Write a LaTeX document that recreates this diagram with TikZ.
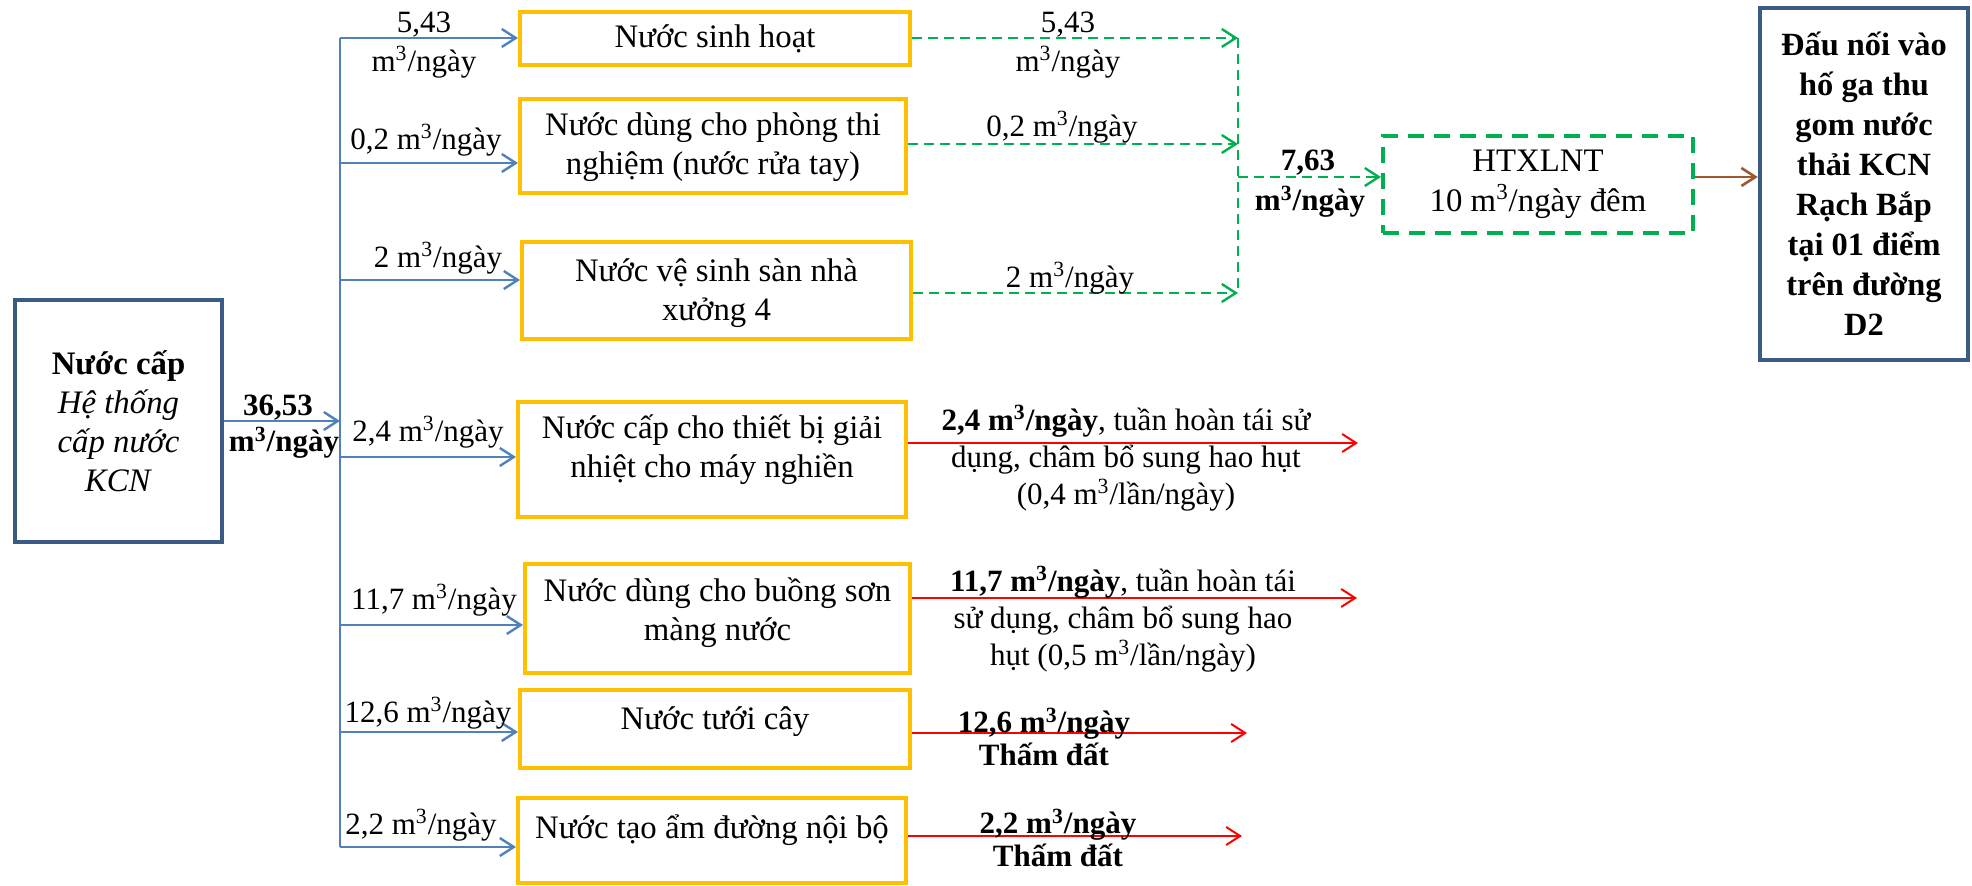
\documentclass[tikz,border=0pt]{standalone}
\usepackage{fontspec}
\setmainfont{Liberation Serif}
\usepackage{tikz}
\usetikzlibrary{arrows.meta, positioning, calc}

\definecolor{khungxanh}{HTML}{3B5A86}
\definecolor{cam}{HTML}{FFC000}
\definecolor{xanhla}{HTML}{00B050}
\definecolor{xanhduong}{HTML}{4F81BD}
\definecolor{nau}{HTML}{A0582E}

\newcommand{\mday}{m\textsuperscript{3}/ngày}

\begin{document}
\begin{tikzpicture}[x=0.5pt, y=-0.5pt,
    hop/.style={draw=cam, line width=2pt, inner sep=0pt},
    chu/.style={align=center, inner sep=0pt, font=\fontsize{16.4}{19.5}\selectfont},
    khung/.style={draw=khungxanh, line width=2.2pt, align=center, inner sep=2pt},
    ongcap/.style={draw=xanhduong, line width=1.2pt, -{Straight Barb[length=7pt,width=9pt]}},
    thai/.style={draw=xanhla, line width=1.2pt, dash pattern=on 5pt off 3pt},
    tuan/.style={draw=red, line width=1pt, -{Straight Barb[length=7pt,width=9pt]}},
    nhan/.style={font=\fontsize{15.5}{18.5}\selectfont, align=center, inner sep=0pt},
    nhanb/.style={align=center, inner sep=0pt, font=\fontsize{15.5}{19}\selectfont\bfseries}]
    \useasboundingbox (0,0) rectangle (1972,886);

    % nguon cap va cac hang muc dung nuoc
    \node[khung, minimum width=103.5pt, minimum height=121pt, font=\fontsize{16.4}{19.5}\selectfont] (src) at (118.5,421)
        {\textbf{Nước cấp}\\ \textit{Hệ thống}\\ \textit{cấp nước}\\ \textit{KCN}};
    \node[hop, minimum width=195pt, minimum height=26.5pt] (sh) at (715,38.5) {};
    \node[hop, minimum width=193pt, minimum height=47pt] (tn) at (713,146) {};
    \node[hop, minimum width=194.5pt, minimum height=48.5pt] (vs) at (716.5,290.5) {};
    \node[hop, minimum width=194pt, minimum height=57.5pt] (gn) at (712,459.5) {};
    \node[hop, minimum width=192.5pt, minimum height=54.5pt] (bs) at (717.5,618.5) {};
    \node[hop, minimum width=195pt, minimum height=39pt] (tc) at (715,729) {};
    \node[hop, minimum width=194pt, minimum height=42.5pt] (ta) at (712,840.5) {};

    \node[chu] (sh-t) at (715,39) {Nước sinh hoạt};
    \node[chu] (tn-t) at (713,147) {Nước dùng cho phòng thi\\ nghiệm (nước rửa tay)};
    \node[chu] (vs-t) at (716.5,293) {Nước vệ sinh sàn nhà\\ xưởng 4};
    \node[chu] (gn-t) at (712,450) {Nước cấp cho thiết bị giải\\ nhiệt cho máy nghiền};
    \node[chu] (bs-t) at (717.5,613) {Nước dùng cho buồng sơn\\ màng nước};
    \node[chu] (tc-t) at (715,722) {Nước tưới cây};
    \node[chu] (ta-t) at (712,830) {Nước tạo ẩm đường nội bộ};

    \node[draw=xanhla, line width=2pt, dash pattern=on 8pt off 5pt, minimum width=155pt, minimum height=48.5pt,
        align=center, font=\fontsize{16.4}{20}\selectfont] (xl) at (1538,184.5) {HTXLNT\\ 10 m\textsuperscript{3}/ngày đêm};
    \node[khung, minimum width=104pt, minimum height=176pt, font=\fontsize{16.2}{20}\selectfont\bfseries] (dn) at (1864,184)
        {Đấu nối vào\\ hố ga thu\\ gom nước\\ thải KCN\\ Rạch Bắp\\ tại 01 điểm\\ trên đường\\ D2};

    % duong ong cap
    \coordinate (j1) at (340,38);
    \coordinate (j2) at (340,163);
    \coordinate (j3) at (340,280);
    \coordinate (j4) at (340,457);
    \coordinate (j5) at (340,625);
    \coordinate (j6) at (340,732);
    \coordinate (j7) at (340,847);
    \draw[xanhduong, line width=1.2pt] (j1) -- (j7);
    \draw[ongcap] (src.east) -- (src.east -| j1);
    \draw[ongcap] (j1) -- (j1 -| sh.west);
    \draw[ongcap] (j2) -- (j2 -| tn.west);
    \draw[ongcap] (j3) -- (j3 -| vs.west);
    \draw[ongcap] (j4) -- (j4 -| gn.west);
    \draw[ongcap] (j5) -- (j5 -| bs.west);
    \draw[ongcap] (j6) -- (j6 -| tc.west);
    \draw[ongcap] (j7) -- (j7 -| ta.west);

    \node[nhanb] (q0a) at (278,408) {36,53};
    \node[nhanb] (q0b) at (284,443) {\mday};
    \node[nhan] (q1a) at (424,25) {5,43};
    \node[nhan] (q1b) at (424,62) {\mday};
    \node[nhan] (q2) at (426,140) {0,2 \mday};
    \node[nhan] (q3) at (438,258) {2 \mday};
    \node[nhan] (q4) at (428,432) {2,4 \mday};
    \node[nhan] (q5) at (434,600) {11,7 \mday};
    \node[nhan] (q6) at (428,713) {12,6 \mday};
    \node[nhan] (q7) at (421,825) {2,2 \mday};

    % nuoc thai ve HTXLNT
    \coordinate (g1) at (1238,38);
    \coordinate (g2) at (1238,144);
    \coordinate (g3) at (1238,293);
    \coordinate (gm) at (1238,177);
    \draw[thai] (g1) -- (g3);
    \draw[thai, -{Straight Barb[length=7pt,width=9pt]}] (g1 -| sh.east) -- (g1);
    \draw[thai, -{Straight Barb[length=7pt,width=9pt]}] (g2 -| tn.east) -- (g2);
    \draw[thai, -{Straight Barb[length=7pt,width=9pt]}] (g3 -| vs.east) -- (g3);
    \draw[thai, -{Straight Barb[length=7pt,width=9pt]}] (gm) -- (gm -| xl.west);

    \node[nhan] (w1a) at (1068,25) {5,43};
    \node[nhan] (w1b) at (1068,62) {\mday};
    \node[nhan] (w2) at (1062,127) {0,2 \mday};
    \node[nhan] (w3) at (1070,278) {2 \mday};
    \node[nhanb] (wma) at (1308,163) {7,63};
    \node[nhanb] (wmb) at (1310,202) {\mday};

    \coordinate (bn) at (1720,177);
    \draw[nau, line width=1.3pt, -{Straight Barb[length=7pt,width=9pt]}] (bn -| xl.east) -- (bn -| dn.west);

    % tuan hoan va tham dat
    \coordinate (r1) at (1358,443);
    \coordinate (r2) at (1357,598);
    \coordinate (r3) at (1247,733);
    \coordinate (r4) at (1242,836);
    \draw[tuan] (r1 -| gn.east) -- (r1);
    \draw[tuan] (r2 -| bs.east) -- (r2);
    \draw[tuan] (r3 -| tc.east) -- (r3);
    \draw[tuan] (r4 -| ta.east) -- (r4);

    \node[nhan] (t1) at (1126,458) {\textbf{2,4 \mday}, tuần hoàn tái sử\\ dụng, châm bổ sung hao hụt\\ (0,4 m\textsuperscript{3}/lần/ngày)};
    \node[nhan] (t2) at (1123,619) {\textbf{11,7 \mday}, tuần hoàn tái\\ sử dụng, châm bổ sung hao\\ hụt (0,5 m\textsuperscript{3}/lần/ngày)};
    \node[nhan, font=\fontsize{15.5}{16.5}\selectfont\bfseries] (t3) at (1044,737) {12,6 \mday\\ Thấm đất};
    \node[nhan, font=\fontsize{15.5}{16.5}\selectfont\bfseries] (t4) at (1058,838) {2,2 \mday\\ Thấm đất};
\end{tikzpicture}
\end{document}
